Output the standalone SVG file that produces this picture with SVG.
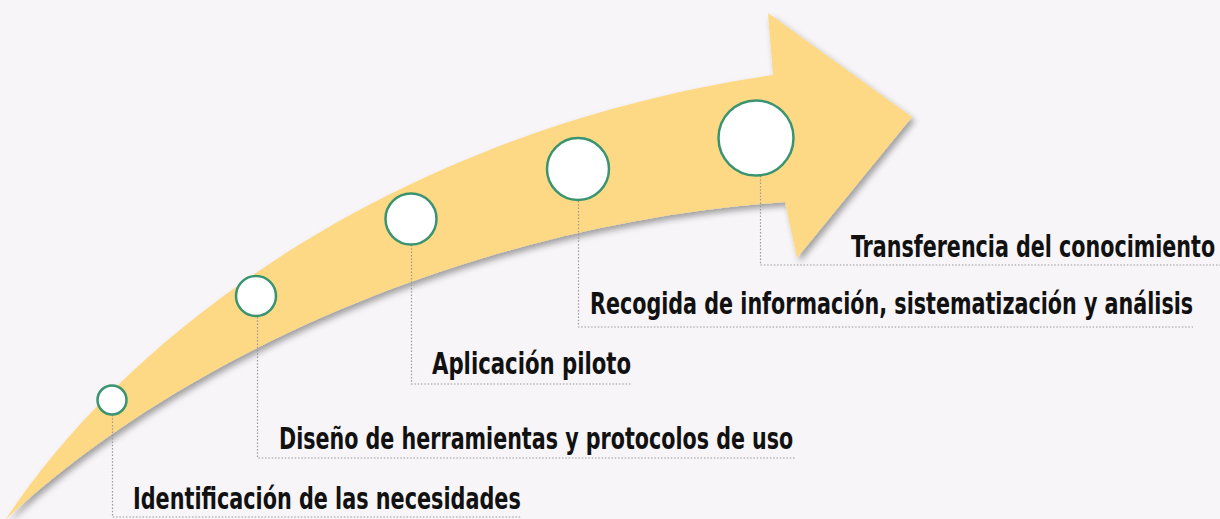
<svg xmlns="http://www.w3.org/2000/svg" width="1220" height="519" viewBox="0 0 1220 519">
<defs>
<filter id="sh" x="-10%" y="-10%" width="130%" height="130%">
<feDropShadow dx="3" dy="4" stdDeviation="3" flood-color="#000" flood-opacity="0.35"/>
</filter>
<style>
.node circle{fill:#ffffff;stroke:#3a9470;stroke-width:2.5}
.lbl{font-family:"DejaVu Sans Condensed","Liberation Sans Narrow","Liberation Sans",sans-serif;font-weight:bold;font-size:31px;fill:#111}
.conn path{fill:none;stroke:#9a9a9a;stroke-width:1.2;stroke-dasharray:1.5 1.8}
</style>
</defs>
<rect width="1220" height="519" fill="#f7f5f7"/>
<g id="arrow">
<path filter="url(#sh)" fill="#fdd985" d="M 6 519 C 130 330, 400 130, 773 75 L 768 13 L 912 117 L 797 258 L 785 202 C 500 222, 200 340, 6 519 Z"/>
</g>
<g id="connectors" class="conn">
<path d="M112.5 415 V517 H521"/>
<path d="M257.5 317 V458 H795"/>
<path d="M411.5 245 V384 H632"/>
<path d="M578.5 201 V327 H1193"/>
<path d="M760.5 176 V265 H1220"/>
</g>
<g id="n1" class="node"><circle cx="112" cy="400" r="14.5"/><text class="lbl" transform="translate(133,509) scale(0.74,1)" textLength="524" lengthAdjust="spacingAndGlyphs">Identificación de las necesidades</text></g>
<g id="n2" class="node"><circle cx="256" cy="296" r="20"/><text class="lbl" transform="translate(279,449) scale(0.74,1)" textLength="695" lengthAdjust="spacingAndGlyphs">Diseño de herramientas y protocolos de uso</text></g>
<g id="n3" class="node"><circle cx="411" cy="219" r="25.5"/><text class="lbl" transform="translate(432,374) scale(0.74,1)" textLength="269" lengthAdjust="spacingAndGlyphs">Aplicación piloto</text></g>
<g id="n4" class="node"><circle cx="578" cy="169" r="31"/><text class="lbl" transform="translate(590,314) scale(0.74,1)" textLength="815" lengthAdjust="spacingAndGlyphs">Recogida de información, sistematización y análisis</text></g>
<g id="n5" class="node"><circle cx="756" cy="138" r="37.5"/><text class="lbl" transform="translate(851,257) scale(0.74,1)" textLength="492" lengthAdjust="spacingAndGlyphs">Transferencia del conocimiento</text></g>
</svg>
